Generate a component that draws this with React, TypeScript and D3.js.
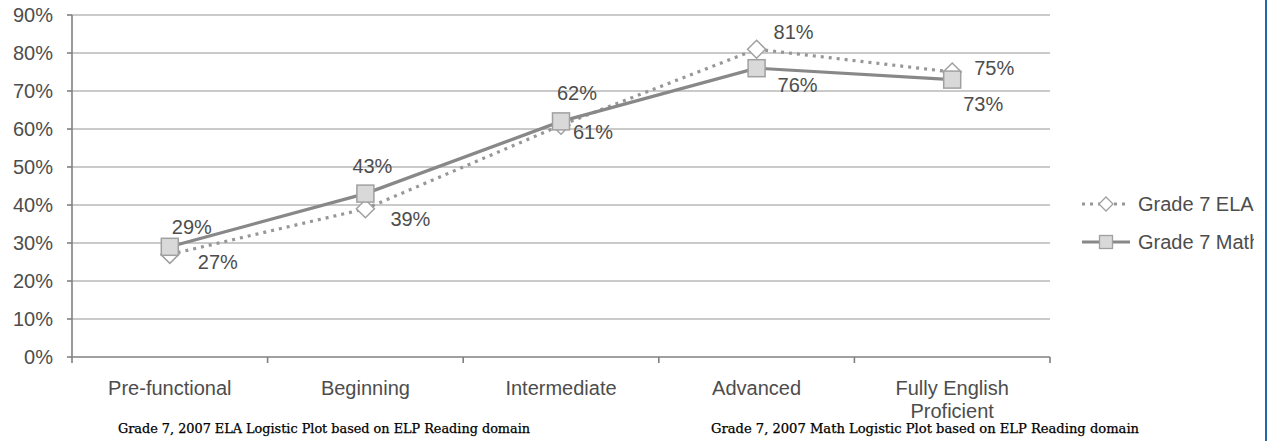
import React from "react";
import * as d3 from "d3";

const categories = ["Pre-functional", "Beginning", "Intermediate", "Advanced", "Fully English Proficient"];
const categoryLines = [["Pre-functional"], ["Beginning"], ["Intermediate"], ["Advanced"], ["Fully English", "Proficient"]];
const elaValues = [0.27, 0.39, 0.61, 0.81, 0.75];
const mathValues = [0.29, 0.43, 0.62, 0.76, 0.73];
const yTicks = [0, 0.1, 0.2, 0.3, 0.4, 0.5, 0.6, 0.7, 0.8, 0.9];
const seriesNames = ["Grade 7 ELA", "Grade 7 Math"];
const captions = [
  "Grade 7, 2007 ELA Logistic Plot based on ELP Reading domain",
  "Grade 7, 2007 Math Logistic Plot based on ELP Reading domain",
];
// label offsets (dx, dy) relative to the point
const elaLabelOffsets = [[48, 8], [45, 10], [32, 7], [37, -17], [42, -4]];
const mathLabelOffsets = [[22, -20], [7, -28], [16, -28], [41, 17], [31, 24]];

const W = 1268;
const H = 441;
const FONT = "'Liberation Sans', Arial, sans-serif";
const TXT = "#4d4d4d";

export default function App() {
  const x = d3.scaleBand<string>().domain(categories).range([72, 1050]).padding(0);
  const y = d3.scaleLinear().domain([0, 0.9]).range([357, 15]);
  const cx = (i: number) => (x(categories[i]) as number) + x.bandwidth() / 2;

  const line = d3
    .line<number>()
    .x((_, i) => cx(i))
    .y((d) => y(d));

  const boundaries = categories.map((c) => x(c) as number).concat([1050]);
  const diamond = (px: number, py: number, r: number) =>
    `M${px},${py - r}L${px + r},${py}L${px},${py + r}L${px - r},${py}Z`;

  return (
    <div style={{ position: "absolute", left: 0, top: 0 }}>
      <svg width={W} height={H} style={{ display: "block", background: "#fff" }}>
        <defs>
          <clipPath id="legclip">
            <rect x={0} y={0} width={1254} height={H} />
          </clipPath>
        </defs>
        {/* gridlines */}
        {yTicks.slice(1).map((t) => (
          <line key={t} x1={72} x2={1050} y1={y(t)} y2={y(t)} stroke="#b8b8b8" strokeWidth={1.6} />
        ))}
        {/* y axis */}
        <line x1={72} x2={72} y1={y(0.9)} y2={y(0)} stroke="#808080" strokeWidth={1.6} />
        {yTicks.map((t) => (
          <g key={"yt" + t}>
            <line x1={67} x2={72} y1={y(t)} y2={y(t)} stroke="#808080" strokeWidth={1.6} />
            <text x={53} y={y(t)} dy="0.35em" textAnchor="end" fontFamily={FONT} fontSize={20} fill={TXT}>
              {Math.round(t * 100) + "%"}
            </text>
          </g>
        ))}
        {/* x axis */}
        <line x1={72} x2={1050} y1={y(0)} y2={y(0)} stroke="#808080" strokeWidth={1.6} />
        {boundaries.map((b, i) => (
          <line key={"xt" + i} x1={b} x2={b} y1={y(0)} y2={y(0) + 6} stroke="#808080" strokeWidth={1.6} />
        ))}
        {categoryLines.map((lines, i) => (
          <text key={"xl" + i} x={cx(i)} y={395} textAnchor="middle" fontFamily={FONT} fontSize={20} fill={TXT}>
            {lines.map((l, j) => (
              <tspan key={j} x={cx(i)} dy={j === 0 ? 0 : 23}>
                {l}
              </tspan>
            ))}
          </text>
        ))}
        {/* ELA series */}
        <path d={line(elaValues) || ""} fill="none" stroke="#979797" strokeWidth={3.2} strokeDasharray="3 5" />
        {elaValues.map((v, i) => (
          <path key={"ed" + i} d={diamond(cx(i), y(v), 9)} fill="#ffffff" stroke="#a0a0a0" strokeWidth={1.5} />
        ))}
        {/* Math series */}
        <path d={line(mathValues) || ""} fill="none" stroke="#888888" strokeWidth={3.2} />
        {mathValues.map((v, i) => (
          <rect key={"ms" + i} x={cx(i) - 8.5} y={y(v) - 8.5} width={17} height={17} fill="#d9d9d9" stroke="#a0a0a0" strokeWidth={1.5} />
        ))}
        {/* labels */}
        {elaValues.map((v, i) => (
          <text key={"el" + i} x={cx(i) + elaLabelOffsets[i][0]} y={y(v) + elaLabelOffsets[i][1]} dy="0.35em" textAnchor="middle" fontFamily={FONT} fontSize={20} fill={TXT}>
            {Math.round(v * 100) + "%"}
          </text>
        ))}
        {mathValues.map((v, i) => (
          <text key={"ml" + i} x={cx(i) + mathLabelOffsets[i][0]} y={y(v) + mathLabelOffsets[i][1]} dy="0.35em" textAnchor="middle" fontFamily={FONT} fontSize={20} fill={TXT}>
            {Math.round(v * 100) + "%"}
          </text>
        ))}
        {/* legend */}
        <g clipPath="url(#legclip)">
          <line x1={1082} x2={1130} y1={204} y2={204} stroke="#979797" strokeWidth={3} strokeDasharray="3 5" />
          <path d={diamond(1106, 204, 7)} fill="#ffffff" stroke="#a0a0a0" strokeWidth={1.3} />
          <text x={1138} y={204} dy="0.35em" fontFamily={FONT} fontSize={20} fill={TXT}>
            {seriesNames[0]}
          </text>
          <line x1={1082} x2={1130} y1={242} y2={242} stroke="#888888" strokeWidth={3} />
          <rect x={1099.5} y={235.5} width={13} height={13} fill="#d9d9d9" stroke="#a0a0a0" strokeWidth={1.3} />
          <text x={1138} y={242} dy="0.35em" fontFamily={FONT} fontSize={20} fill={TXT}>
            {seriesNames[1]}
          </text>
        </g>
        {/* captions */}
        <text x={118} y={433} fontFamily="'DejaVu Serif', serif" fontSize={12} fill="#000" stroke="#000" strokeWidth={0.25} textLength={412} lengthAdjust="spacingAndGlyphs">
          {captions[0]}
        </text>
        <text x={711} y={433} fontFamily="'DejaVu Serif', serif" fontSize={12} fill="#000" stroke="#000" strokeWidth={0.25} textLength={428} lengthAdjust="spacingAndGlyphs">
          {captions[1]}
        </text>
        {/* right edge blue line */}
        <line x1={1266} x2={1266} y1={0} y2={H} stroke="#2467a8" strokeWidth={2} />
      </svg>
    </div>
  );
}
